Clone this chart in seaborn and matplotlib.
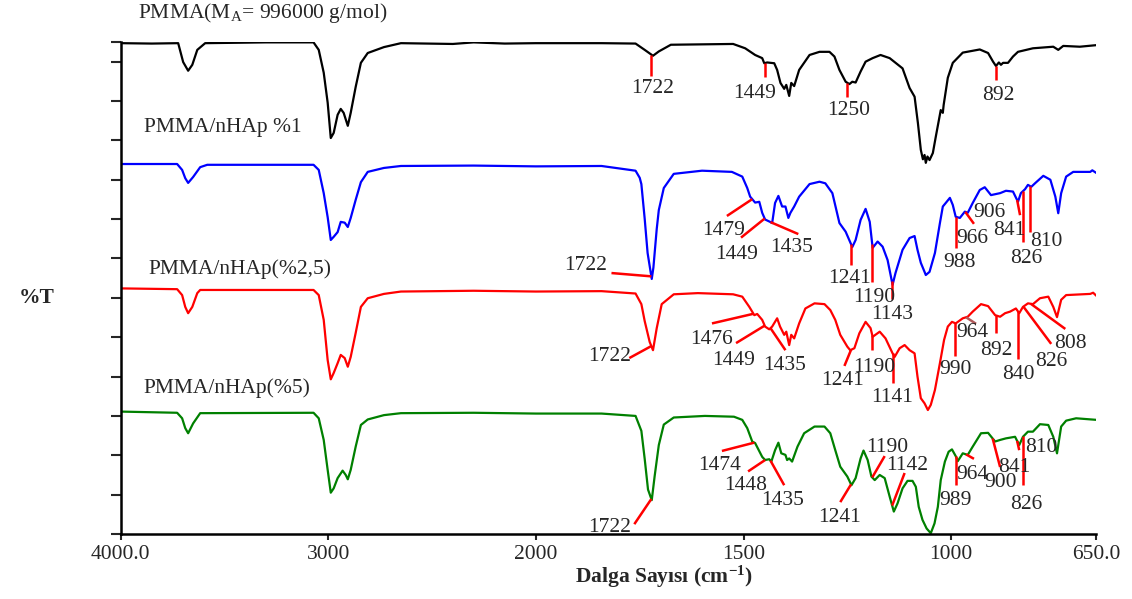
import numpy as np
import pandas as pd
import matplotlib
matplotlib.use("Agg")
import matplotlib.pyplot as plt
import seaborn as sns

# ---- FTIR spectra: (wavenumber cm-1, stacked %T) ----
pmma = [(4000,124.7),(3850,124.6),(3723,124.7),(3699,119.9),(3675,117.7),(3655,119.2),(3631,123.0),(3593,124.7),
        (3300,124.9),(3071,124.9),(3046,123.0),(3022,117.2),(3003,109.6),(2988,100.6),(2974,101.9),(2955,106.5),
        (2940,108.0),(2926,107.0),(2906,103.7),(2892,107.0),(2868,113.6),(2843,119.7),(2810,122.2),(2732,123.7),
        (2650,124.7),(2400,124.5),(2300,124.9),(2150,124.6),(2000,124.7),(1842,124.7),(1760,124.6),(1738,123.0),
        (1718,121.5),(1704,122.6),(1675,124.3),(1525,124.5),(1496,123.4),(1472,121.7),(1455,120.9),(1450,119.6),
        (1443,119.8),(1426,119.6),(1419,117.9),(1411,114.6),(1402,113.1),(1397,114.1),(1390,111.3),(1385,114.6),
        (1378,113.8),(1366,117.9),(1341,121.7),(1317,122.5),(1293,122.5),(1281,121.3),(1269,117.9),(1254,114.9),
        (1245,114.3),(1238,114.9),(1230,114.7),(1218,117.5),(1206,120.0),(1189,120.9),(1170,121.7),(1148,120.9),
        (1117,118.3),(1100,113.3),(1088,111.1),(1080,104.4),(1073,97.6),(1068,95.2),(1064,96.3),(1061,94.3),
        (1057,95.9),(1052,95.0),(1044,96.8),(1037,100.9),(1025,107.7),(1020,107.0),(1018,109.0),(1008,115.9),
        (996,119.7),(972,122.3),(931,123.1),(911,122.2),(899,120.0),(892,118.9),(885,119.8),(880,119.2),
        (875,119.7),(863,119.7),(851,121.3),(839,122.5),(803,123.4),(754,123.8),(742,123.0),(730,124.0),
        (690,123.8),(650,124.2)]

pmma_hap1 = [(4000,94.0),(3728,94.0),(3704,92.5),(3689,90.4),(3675,89.2),(3651,90.7),(3617,93.2),(3583,93.8),
             (3071,93.8),(3046,92.5),(3022,86.6),(3003,80.5),(2988,74.7),(2974,75.5),(2955,76.7),(2940,79.3),
             (2921,79.1),(2906,78.0),(2892,80.3),(2868,84.9),(2843,89.4),(2810,92.0),(2732,93.0),(2650,93.5),
             (2300,93.6),(2000,93.4),(1842,93.5),(1760,92.3),(1750,90.5),(1746,88.9),(1738,80.1),(1731,71.4),
             (1721,64.8),(1717,67.7),(1714,71.4),(1709,77.5),(1704,82.3),(1692,87.9),(1668,91.5),(1600,92.3),
             (1528,92.0),(1503,90.8),(1491,87.9),
             (1484,85.7),(1472,84.2),(1462,84.4),(1455,81.6),(1448,79.9),(1436,79.3),(1431,79.0),(1424,84.1),
             (1416,85.9),(1407,83.2),(1399,83.2),(1392,80.3),(1387,81.6),(1378,83.2),(1366,85.7),(1341,88.9),
             (1317,89.5),(1303,89.1),(1286,86.6),(1269,79.0),(1254,76.8),(1238,72.9),(1230,74.7),(1218,79.8),
             (1206,82.6),(1196,79.3),(1189,72.7),(1177,74.3),(1165,73.0),(1153,69.6),(1141,63.3),(1134,66.3),
             (1117,72.2),(1100,75.2),(1088,75.7),(1081,72.2),(1073,68.9),(1064,66.6),(1061,65.8),(1052,66.6),
             (1039,71.4),(1027,79.0),(1020,83.2),(1013,84.1),(1003,85.4),(996,83.6),(989,80.6),(979,80.3),
             (967,81.9),(960,81.6),(948,84.1),(931,87.4),(919,88.1),(904,86.1),(882,86.6),(868,87.2),
             (851,87.0),(839,84.4),(832,86.6),(822,87.6),(815,88.7),(807,88.2),(798,89.1),(778,91.0),
             (761,90.0),(749,85.7),(742,81.5),(735,86.6),(723,90.8),(706,92.0),(665,92.0),(660,92.4),(650,91.7)]

pmma_hap25 = [(4000,62.4),(3728,62.2),(3704,60.7),(3689,57.7),(3675,56.1),(3655,57.7),(3631,61.2),(3617,62.0),
              (3071,62.0),(3046,60.7),(3022,54.4),(3003,44.2),(2988,39.3),(2974,40.9),(2955,43.4),(2940,45.5),
              (2921,44.7),(2906,42.5),(2892,45.0),(2868,51.1),(2843,57.7),(2810,59.9),(2732,61.0),(2650,61.6),
              (2300,61.8),(2000,61.6),(1842,61.7),(1760,61.1),(1746,58.4),(1738,54.1),(1726,48.8),(1718,46.7),
              (1709,52.3),(1697,58.4),(1668,60.9),(1610,61.2),(1525,60.9),(1503,60.3),(1486,57.7),(1474,55.6),
              (1467,55.9),(1455,54.4),(1448,52.7),(1438,52.0),(1431,52.7),(1419,54.8),(1412,52.7),(1402,50.6),
              (1397,51.4),(1390,48.0),(1385,50.6),(1378,49.7),(1366,53.5),(1351,57.3),(1329,58.6),(1305,58.4),
              (1291,56.9),(1279,54.4),(1267,50.6),(1250,47.6),(1243,46.7),(1233,47.2),(1221,51.0),(1206,53.9),
              (1194,52.3),(1189,50.1),(1172,51.4),(1158,49.7),(1141,45.9),(1136,45.0),(1124,47.2),(1112,48.0),
              (1100,46.7),(1088,45.9),(1081,40.0),(1073,34.5),(1064,33.2),(1056,31.5),(1049,32.8),(1039,36.6),
              (1027,43.4),(1017,49.3),(1008,52.7),(998,53.9),(989,53.5),(972,54.8),(960,55.2),(948,56.5),
              (928,58.4),(911,57.9),(894,55.6),(882,55.2),(870,56.1),(858,56.5),(844,57.3),(836,56.1),
              (827,57.7),(815,58.6),(803,58.4),(786,59.9),(766,60.3),(754,57.7),(745,55.1),(735,59.5),
              (723,60.7),(665,61.0),(658,61.3),(650,60.5)]

pmma_hap5 = [(4000,31.1),(3728,30.8),(3704,29.4),(3689,26.9),(3675,25.6),(3651,28.1),(3617,30.7),(3071,30.8),
             (3046,29.4),(3022,23.9),(3003,16.3),(2988,10.5),(2974,11.6),(2955,14.2),(2931,16.1),(2916,15.0),
             (2906,13.9),(2892,16.3),(2868,22.2),(2843,27.7),(2810,29.1),(2732,30.2),(2650,30.7),(2300,30.8),
             (2000,30.6),(1842,30.6),(1760,30.0),(1746,26.2),(1738,19.1),(1730,11.3),(1721,8.6),(1714,14.7),
             (1704,22.6),(1692,27.8),(1668,29.6),(1593,30.0),(1523,29.8),(1503,29.0),(1491,26.9),(1479,23.5),
             (1472,23.1),(1455,19.6),(1448,18.8),(1438,19.0),(1433,18.4),(1424,21.3),(1416,23.2),(1409,20.5),
             (1399,20.1),(1395,18.8),(1390,19.2),(1383,18.4),(1370,22.2),(1354,25.6),(1329,27.3),(1305,27.3),
             (1291,25.6),(1279,21.3),(1267,17.1),(1250,14.6),(1240,12.4),(1230,14.2),(1218,19.2),(1211,21.2),
             (1201,18.8),(1192,14.6),(1184,13.7),(1172,15.0),(1160,14.2),(1148,9.5),(1138,5.7),(1129,7.8),
             (1117,11.6),(1105,13.5),(1093,13.5),(1085,12.0),(1078,6.9),(1069,3.6),(1059,1.4),(1049,0.2),
             (1040,2.7),(1032,6.9),(1025,13.7),(1015,18.4),(1006,20.9),(998,21.5),(989,19.8),(984,18.5),
             (972,20.5),(960,20.1),(948,22.2),(928,25.6),(911,25.7),(894,23.5),(882,23.9),(868,24.3),
             (846,24.7),(836,22.6),(827,24.7),(815,26.0),(803,26.0),(786,27.9),(766,27.7),(754,24.7),
             (745,20.5),(735,27.3),(723,28.8),(699,29.4),(650,29.0)]

sample_names = ["PMMA(M$_\\mathrm{A}$= 996000 g/mol)", "PMMA/nHAp %1", "PMMA/nHAp(%2,5)", "PMMA/nHAp(%5)"]
sample_colors = ["#000000", "#0000ff", "#ff0000", "#008000"]

# assigned band positions (cm-1) for each sample
peaks_pmma = [1722, 1449, 1250, 892]
peaks_hap1 = [1722, 1479, 1449, 1435, 1241, 1190, 1143, 988, 966, 906, 841, 826, 810]
peaks_hap25 = [1722, 1476, 1449, 1435, 1241, 1190, 1141, 990, 964, 892, 840, 826, 808]
peaks_hap5 = [1722, 1474, 1448, 1435, 1241, 1190, 1142, 989, 964, 900, 841, 826, 810]

xtick_values = [4000, 3000, 2000, 1500, 1000, 650]
xtick_labels = ["4000.0", "3000", "2000", "1500", "1000", "650.0"]

# ---- placement of the band labels: (leader end wn, leader end T, text wn, text T) ----
layout_pmma = [(1722, 116.4, 1718, 113.1), (1449, 116.1, 1474, 112.0),
               (1250, 111.0, 1247, 107.7), (892, 115.3, 887, 111.5)]
layout_hap1 = [(1818, 66.3, 1880, 68.3), (1540, 80.8, 1549, 77.2), (1506, 75.3, 1516, 70.9),
               (1368, 76.2, 1383, 72.7), (1241, 68.3, 1245, 65.0), (1190, 64.0, 1186, 60.1),
               (1143, 59.7, 1141, 55.7), (988, 72.7, 981, 68.9), (945, 78.8, 948, 75.0),
               (None, None, 909, 81.6), (834, 81.0, 861, 77.0), (826, 74.2, 820, 70.1),
               (810, 76.7, 771, 74.4)]
layout_hap25 = [(1775, 44.7, 1822, 45.0), (1576, 53.5, 1578, 49.3), (1518, 48.5, 1523, 44.2),
                (1399, 46.7, 1402, 42.7), (1257, 42.7, 1262, 38.9), (1190, 46.7, 1185, 42.2),
                (1141, 38.4, 1141, 34.6), (990, 45.2, 989, 41.7), (940, 53.4, 950, 51.2),
                (892, 51.1, 890, 46.5), (840, 44.5, 839, 40.4), (759, 48.3, 759, 43.7),
                (725, 52.1, 713, 48.5)]
layout_hap5 = [(1763, 2.5, 1822, 1.6), (1552, 21.1, 1557, 17.5), (1489, 15.9, 1494, 12.2),
               (1402, 12.4, 1407, 8.6), (1267, 8.1, 1269, 4.3), (1160, 19.8, 1155, 22.1),
               (1112, 15.5, 1105, 17.3), (989, 12.4, 989, 8.6), (945, 19.1, 950, 15.0),
               (882, 17.0, 882, 13.0), (836, 21.3, 848, 17.0), (826, 12.4, 820, 7.4),
               (None, None, 783, 22.1)]
leader_colors = {(2, 964): "#b05a5a"}
title_pos = [(3916, 132.4), (3887, 103.4), (3868, 67.3), (3892, 37.1)]

sns.set_style("ticks")
plt.rcParams["font.family"] = ["Liberation Serif", "DejaVu Serif"]
plt.rcParams["mathtext.fontset"] = "custom"
plt.rcParams["mathtext.rm"] = "Liberation Serif"
plt.rcParams["mathtext.it"] = "Liberation Serif:italic"
plt.rcParams["mathtext.bf"] = "Liberation Serif:bold"

spectra = [pmma, pmma_hap1, pmma_hap25, pmma_hap5]
frames = []
for name, spec in zip(sample_names, spectra):
    arr = np.array(spec, dtype=float)
    frames.append(pd.DataFrame({"wn": arr[:, 0], "T": arr[:, 1], "sample": name}))
df = pd.concat(frames, ignore_index=True)

fig = plt.figure(figsize=(11.32, 5.99), dpi=100)
ax = fig.add_axes([0.1066, 0.1085, 0.8620, 0.8214])

sns.lineplot(data=df, x="wn", y="T", hue="sample", hue_order=sample_names,
             palette=dict(zip(sample_names, sample_colors)), estimator=None,
             linewidth=1.6, legend=False, ax=ax)


# wavenumber axis stretched two-fold below 2000 cm-1
def _fwd(w):
    w = np.asarray(w, dtype=float)
    return np.where(w >= 2000, w, 2 * w - 2000)


def _inv(u):
    u = np.asarray(u, dtype=float)
    return np.where(u >= 2000, u, (u + 2000) / 2)


ax.set_xscale("function", functions=(_fwd, _inv))
ax.set_xlim(4000, 650)
ax.set_ylim(0, 125)
ax.set_xticks(xtick_values)
ax.set_xticklabels(xtick_labels)
ax.set_yticks(list(range(0, 130, 10)) + [125])
ax.set_yticklabels([])
ax.tick_params(axis="x", direction="out", length=4, width=1.5, labelsize=15.5, pad=4)
ax.tick_params(axis="y", direction="out", length=7, width=1.5)
ax.minorticks_off()
for side in ("top", "right"):
    ax.spines[side].set_visible(False)
for side in ("left", "bottom"):
    ax.spines[side].set_linewidth(1.8)
    ax.spines[side].set_color("black")
ax.set_xlabel("")
ax.set_ylabel("")

all_peaks = [peaks_pmma, peaks_hap1, peaks_hap25, peaks_hap5]
all_layouts = [layout_pmma, layout_hap1, layout_hap25, layout_hap5]
for i, (spec, peaks, layout) in enumerate(zip(spectra, all_peaks, all_layouts)):
    arr = np.array(spec, dtype=float)
    wn, tr = arr[::-1, 0], arr[::-1, 1]
    for p, (ew, ev, tw, tv) in zip(peaks, layout):
        if ew is not None:
            y0 = np.interp(p, wn, tr)
            ax.plot([p, ew], [y0, ev], color=leader_colors.get((i, p), "#ff0000"),
                    linewidth=1.8, solid_capstyle="butt", zorder=3)
        ax.text(tw, tv, str(p), fontsize=15.5, ha="center", va="center", zorder=4, clip_on=False)

for name, (tw, tv) in zip(sample_names, title_pos):
    ax.text(tw, tv, name, fontsize=15.5, ha="left", va="center", clip_on=False)

fig.text(0.0327, 0.5025, "%T", fontsize=15.5, fontweight="bold", ha="center", va="center")
fig.text(0.5866, 0.0367, "Dalga Sayısı (cm$^{\\mathbf{-1}}$)", fontsize=15.5, fontweight="bold",
         ha="center", va="center")

fig.savefig("out.png", dpi=100)
